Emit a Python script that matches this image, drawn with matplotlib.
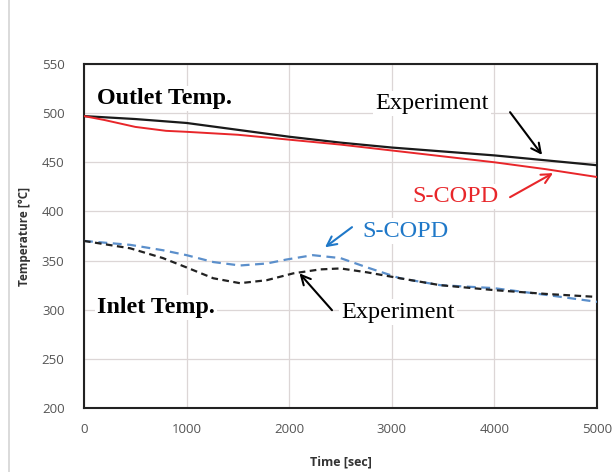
import matplotlib
matplotlib.use("Agg")
import matplotlib.pyplot as plt
from matplotlib.lines import Line2D

# ---- data ----
out_exp_t = [0, 500, 1000, 1500, 2000, 2500, 3000, 3500, 4000, 4500, 5000]
out_exp_T = [497, 494, 490, 483, 476, 470, 465, 461, 457, 452, 447]

out_sim_t = [0, 200, 500, 800, 1000, 1500, 2000, 2500, 3000, 3500, 4000, 4500, 5000]
out_sim_T = [497, 493, 486, 482, 481, 478, 473, 468, 462, 456, 450, 443, 435]

in_exp_t = [0, 450, 770, 1000, 1260, 1520, 1780, 2040, 2300, 2500, 2760, 3080, 3470, 3990, 4510, 5000]
in_exp_T = [370, 362.5, 352.5, 343, 332, 327, 330, 337, 341, 342, 338, 332, 325, 320, 316, 313]

in_sim_t = [0, 450, 770, 1000, 1260, 1520, 1780, 1970, 2230, 2500, 2760, 3080, 3470, 3990, 4510, 5000]
in_sim_T = [370, 366, 360.5, 355.5, 348.5, 345, 347, 351, 355.5, 352.5, 343, 332, 325, 322, 315, 308]

xticks = [0, 1000, 2000, 3000, 4000, 5000]
yticks = [200, 250, 300, 350, 400, 450, 500, 550]

fig = plt.figure(figsize=(6.13, 4.72), dpi=100)
ax = fig.add_axes([0.137, 0.1356, 0.837, 0.7288])

ax.plot(out_exp_t, out_exp_T, color="#1a1a1a", lw=1.6, zorder=3)
ax.plot(out_sim_t, out_sim_T, color="#e8262a", lw=1.4, zorder=3)
ax.plot(in_sim_t, in_sim_T, color="#5b8fcb", lw=1.6, ls=(0, (4, 2.5)), zorder=3)
ax.plot(in_exp_t, in_exp_T, color="#222222", lw=1.6, ls=(0, (3, 2)), zorder=3)

ax.set_xlim(0, 5000)
ax.set_ylim(200, 550)
ax.set_xticks(xticks)
ax.set_yticks(yticks)
ax.grid(True, color="#dcd6d6", lw=0.9)
ax.set_axisbelow(True)
ax.tick_params(length=0, labelsize=9.5, labelcolor="#555555", pad=14)
ax.tick_params(axis="x", pad=11)
for lab in ax.get_xticklabels() + ax.get_yticklabels():
    lab.set_family("Open Sans")
for s in ax.spines.values():
    s.set_color("#222222")
    s.set_linewidth(1.5)

ax.set_xlabel("Time [sec]", fontsize=9, fontweight="bold", color="#333333",
              family="Open Sans", labelpad=14)
ax.set_ylabel("Temperature [°C]", fontsize=8.5, fontweight="bold", color="#333333",
              family="Open Sans", labelpad=8)

serif = "Liberation Serif"
box = dict(facecolor="white", edgecolor="none", pad=1.5)
fs = 17.5

ax.text(125, 515, "Outlet Temp.", fontsize=17.3, fontweight="bold", family=serif,
        ha="left", va="center", bbox=box, zorder=4)
ax.text(125, 302, "Inlet Temp.", fontsize=17.3, fontweight="bold", family=serif,
        ha="left", va="center", bbox=box, zorder=4)

ax.text(2836, 510, "Experiment", fontsize=fs, family=serif, color="black",
        ha="left", va="center", bbox=box, zorder=4)
ax.text(3197, 415.5, "S-COPD", fontsize=fs, family=serif, color="#e8262a",
        ha="left", va="center", bbox=box, zorder=4)
ax.text(2710, 380, "S-COPD", fontsize=fs, family=serif, color="#1f78c8",
        ha="left", va="center", bbox=box, zorder=4)
ax.text(2505, 297.5, "Experiment", fontsize=fs, family=serif, color="black",
        ha="left", va="center", bbox=box, zorder=4)


def arrow(x0, y0, x1, y1, color):
    ax.annotate("", xy=(x1, y1), xytext=(x0, y0), zorder=5,
                arrowprops=dict(arrowstyle="->", color=color, lw=1.5,
                                mutation_scale=17, shrinkA=0, shrinkB=0))


arrow(4152, 501, 4464, 457.5, "black")
arrow(4152, 414.5, 4571, 439, "#e8262a")
arrow(2612, 384, 2349, 363.5, "#1f78c8")
arrow(2417, 299.5, 2100, 337, "black")

fig.add_artist(Line2D([9 / 613, 9 / 613], [0, 1], transform=fig.transFigure,
                      color="#d4d4d4", lw=1.2))

fig.savefig("out.png", dpi=100)
